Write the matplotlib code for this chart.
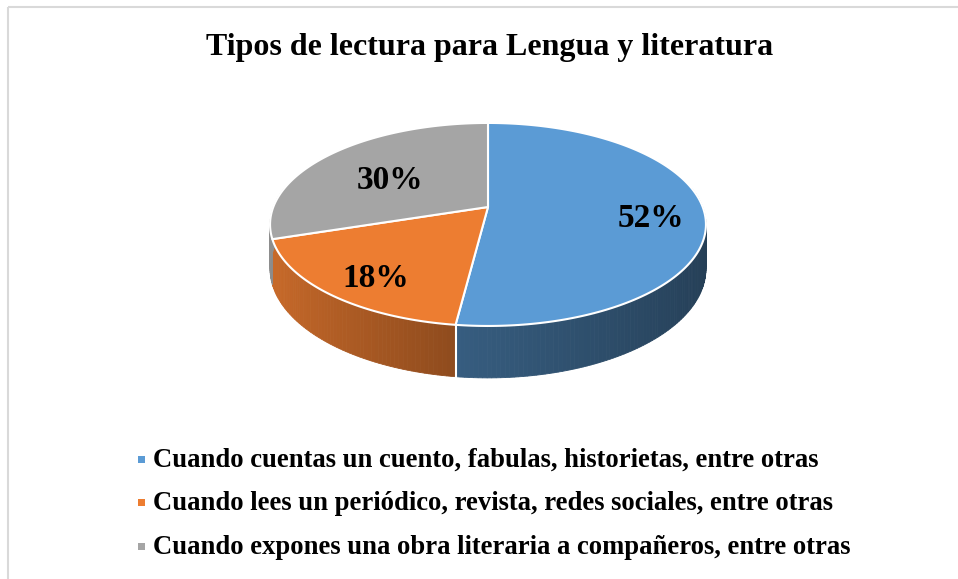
import numpy as np
import matplotlib
matplotlib.use("Agg")
import matplotlib.pyplot as plt
from matplotlib.patches import Polygon, Rectangle

# data
categories = ["Cuando cuentas un cuento, fabulas, historietas, entre otras",
              "Cuando lees un periódico, revista, redes sociales, entre otras",
              "Cuando expones una obra literaria a compañeros, entre otras"]
values = [52, 18, 30]
colors = ["#5B9BD5", "#ED7D31", "#A5A5A5"]
title = "Tipos de lectura para Lengua y literatura"

# 3d pie geometry (pixel space)
cx, cy = 488, 207
rx, ry = 214.7, 98.5
persp = 0.172
depth = 43

def proj(X, Y, down=0.0):
    s = 1.0 / (1.0 - persp * Y)
    return cx + rx * X * s, cy + (ry * Y + down) * s

def shade(hexcol, f):
    c = np.array(matplotlib.colors.to_rgb(hexcol))
    return tuple(np.clip(c * f, 0, 1))

fig = plt.figure(figsize=(9.58, 5.79), dpi=100)
ax = fig.add_axes([0, 0, 1, 1])
ax.set_xlim(0, 958)
ax.set_ylim(579, 0)
ax.axis("off")

# chart border
ax.add_patch(Rectangle((8, 7), 952, 590, fill=False, edgecolor="#D9D9D9", lw=1.5))

fracs = np.array(values) / sum(values)
bounds = np.concatenate([[0], np.cumsum(fracs)]) * 2 * np.pi

# side walls (drawn first, top face covers the back ones)
for i in range(len(values)):
    th = np.linspace(bounds[i], bounds[i + 1], max(int(np.degrees(bounds[i + 1] - bounds[i])), 2) + 1)
    for a, b in zip(th[:-1], th[1:]):
        Xa, Ya = np.sin(a), -np.cos(a)
        Xb, Yb = np.sin(b), -np.cos(b)
        if (Ya + Yb) / 2 < -0.2:
            continue
        pts = [proj(Xa, Ya), proj(Xb, Yb), proj(Xb, Yb, depth), proj(Xa, Ya, depth)]
        f = np.interp((Xa + Xb) / 2, [-1, -0.12, 1], [0.86, 0.6, 0.4])
        col = shade(colors[i], f)
        ax.add_patch(Polygon(pts, closed=True, facecolor=col, edgecolor=col, lw=0.6))

# white seam between front walls
for b in bounds:
    X, Y = np.sin(b), -np.cos(b)
    if Y > 0.5:
        x0, y0 = proj(X, Y)
        x1, y1 = proj(X, Y, depth)
        ax.plot([x0, x1], [y0, y1], color="white", lw=1.5)

# top faces
for i in range(len(values)):
    th = np.linspace(bounds[i], bounds[i + 1], 200)
    pts = [proj(0, 0)] + [proj(np.sin(t), -np.cos(t)) for t in th]
    ax.add_patch(Polygon(pts, closed=True, facecolor=colors[i], edgecolor="white", lw=1.5, joinstyle="round"))

# data labels
label_r = [0.74, 0.76, 0.62]
for i, v in enumerate(values):
    mid = (bounds[i] + bounds[i + 1]) / 2
    x, y = proj(label_r[i] * np.sin(mid), -label_r[i] * np.cos(mid))
    ax.text(x + 3, y + 7, f"{v}%", ha="center", va="center", fontsize=24,
            fontweight="bold", family="Liberation Serif", color="black")

# title
ax.text(490, 47, title, ha="center", va="center", fontsize=23, fontweight="bold",
        family="Liberation Serif", color="black")

# legend
leg_y = [460, 503, 547]
for i, lab in enumerate(categories):
    ax.add_patch(Rectangle((138, leg_y[i] - 4), 7, 7, facecolor=colors[i], edgecolor="none"))
    ax.text(153, leg_y[i], lab, ha="left", va="center", fontsize=19.2, fontweight="bold",
            family="Liberation Serif", color="black")

fig.savefig("out.png", dpi=100)
